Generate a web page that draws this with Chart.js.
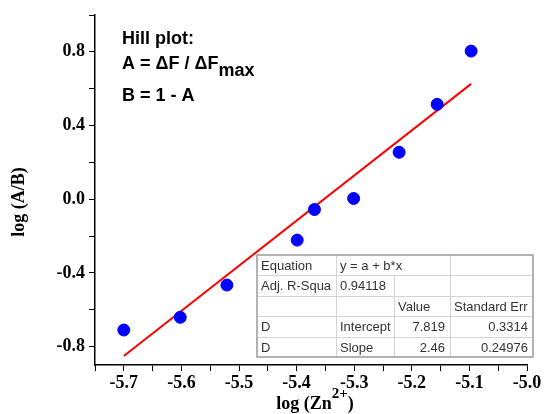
<!DOCTYPE html>
<html>
<head>
<meta charset="utf-8">
<script src="https://cdn.jsdelivr.net/npm/chart.js@4"></script>
<style>
  html, body { margin: 0; padding: 0; background: #fff; }
  #c { display: block; }
</style>
</head>
<body>
<canvas id="c" width="545" height="414"></canvas>
<script>
/* data */
const logZn = [-5.70, -5.602, -5.521, -5.399, -5.369, -5.301, -5.222, -5.156, -5.097];
const logAB = [-0.71, -0.641, -0.466, -0.222, -0.056, 0.004, 0.255, 0.515, 0.804];
const fitX = [-5.70, -5.097];
const fitY = [-0.851, 0.626];

// tick positions (labels only on the major ones)
const xTicks = [-5.75, -5.7, -5.65, -5.6, -5.55, -5.5, -5.45, -5.4, -5.35, -5.3, -5.25, -5.2, -5.15, -5.1, -5.05, -5.0];
const xLabels = [-5.7, -5.6, -5.5, -5.4, -5.3, -5.2, -5.1, -5.0];
const yTicks = [-0.8, -0.6, -0.4, -0.2, 0.0, 0.2, 0.4, 0.6, 0.8, 1.0];
const yLabels = [-0.8, -0.4, 0.0, 0.4, 0.8];

const tableRows = [
  ['Equation', 'y = a + b*x', '', ''],
  ['Adj. R-Squa', '0.94118', '', ''],
  ['', '', 'Value', 'Standard Err'],
  ['D', 'Intercept', '7.819', '0.3314'],
  ['D', 'Slope', '2.46', '0.24976']
];

const serif = '"Liberation Serif","Times New Roman",serif';
const sans = '"Liberation Sans",Arial,sans-serif';

const hasLabel = (list, v) => list.some(l => Math.abs(l - v) < 1e-6);

/* text annotation, fit table, axis titles */
const extras = {
  id: 'extras',
  afterDraw(chart) {
    const ctx = chart.ctx;
    ctx.save();
    ctx.fillStyle = '#000';
    ctx.textBaseline = 'alphabetic';

    // Hill plot note
    ctx.font = 'bold 18px ' + sans;
    ctx.fillText('Hill plot:', 122, 44);
    ctx.fillText('A = \u0394F / \u0394F', 122, 69);
    const w = ctx.measureText('A = \u0394F / \u0394F').width;
    ctx.fillText('max', 122 + w, 76);
    ctx.fillText('B = 1 - A', 122, 101);

    // x title with superscript
    ctx.font = 'bold 18px ' + serif;
    const base = 'log (Zn';
    const bw = ctx.measureText(base).width;
    ctx.font = 'bold 15px ' + serif;
    const sw = ctx.measureText('2+').width;
    ctx.font = 'bold 18px ' + serif;
    const pw = ctx.measureText(')').width;
    let x0 = 315 - (bw + sw + pw) / 2;
    ctx.fillText(base, x0, 409);
    ctx.font = 'bold 15px ' + serif;
    ctx.fillText('2+', x0 + bw, 398);
    ctx.font = 'bold 18px ' + serif;
    ctx.fillText(')', x0 + bw + sw, 409);

    // y title
    ctx.save();
    ctx.translate(24, 202);
    ctx.rotate(-Math.PI / 2);
    ctx.textAlign = 'center';
    ctx.fillText('log (A/B)', 0, 0);
    ctx.restore();

    // fit table
    const left = 257, top = 255, rowH = 20.4;
    const cols = [257, 336, 394, 450, 533];
    const bottom = top + rowH * tableRows.length;
    ctx.fillStyle = '#fff';
    ctx.fillRect(left, top, cols[4] - left, bottom - top);
    ctx.strokeStyle = '#d4d4d4';
    ctx.lineWidth = 1;
    for (let r = 1; r < tableRows.length; r++) {
      ctx.beginPath();
      ctx.moveTo(left, Math.round(top + r * rowH) + 0.5);
      ctx.lineTo(cols[4], Math.round(top + r * rowH) + 0.5);
      ctx.stroke();
    }
    for (let c = 1; c < 4; c++) {
      ctx.beginPath();
      const y0 = c === 2 ? top + rowH : top;
      ctx.moveTo(cols[c] + 0.5, y0);
      ctx.lineTo(cols[c] + 0.5, bottom);
      ctx.stroke();
    }
    ctx.strokeStyle = '#9a9a9a';
    ctx.lineWidth = 1.5;
    ctx.strokeRect(left, top, cols[4] - left, bottom - top);

    ctx.fillStyle = '#333';
    ctx.font = '13px ' + sans;
    tableRows.forEach((row, r) => {
      const y = top + r * rowH + 15;
      row.forEach((txt, c) => {
        if (!txt) return;
        const numeric = r >= 3 && c >= 2;
        if (numeric) {
          ctx.textAlign = 'right';
          ctx.fillText(txt, cols[c + 1] - 5, y);
        } else {
          ctx.textAlign = 'left';
          ctx.fillText(txt, cols[c] + 4, y);
        }
      });
    });
    ctx.restore();
  }
};

new Chart(document.getElementById('c'), {
  type: 'scatter',
  data: {
    datasets: [
      {
        label: 'fit',
        type: 'line',
        data: fitX.map((x, i) => ({ x, y: fitY[i] })),
        borderColor: '#ff0000',
        borderWidth: 2,
        pointRadius: 0,
        fill: false,
        order: 2
      },
      {
        label: 'data',
        data: logZn.map((x, i) => ({ x, y: logAB[i] })),
        backgroundColor: '#0000ff',
        borderColor: '#0000ff',
        pointRadius: 6,
        order: 1
      }
    ]
  },
  options: {
    responsive: false,
    animation: false,
    layout: { padding: { top: 15, right: 18, left: 0, bottom: 0 } },
    plugins: { legend: { display: false }, tooltip: { enabled: false } },
    scales: {
      x: {
        type: 'linear',
        min: -5.75,
        max: -5.0,
        afterFit: s => { s.height = 49; },
        afterBuildTicks: s => { s.ticks = xTicks.map(value => ({ value })); },
        border: { color: '#000', width: 1.5 },
        grid: { drawOnChartArea: false, tickLength: 6, color: '#000', tickColor: '#000' },
        ticks: {
          autoSkip: false,
          maxRotation: 0,
          padding: 2,
          color: '#000',
          font: { family: serif, size: 18, weight: 'bold' },
          callback: v => hasLabel(xLabels, v) ? v.toFixed(1) : ''
        }
      },
      y: {
        type: 'linear',
        min: -0.9,
        max: 1.0,
        afterFit: s => { s.width = 95; },
        afterBuildTicks: s => { s.ticks = yTicks.map(value => ({ value })); },
        border: { color: '#000', width: 1.5 },
        grid: { drawOnChartArea: false, tickLength: 6, color: '#000', tickColor: '#000' },
        ticks: {
          autoSkip: false,
          padding: 4,
          color: '#000',
          font: { family: serif, size: 18, weight: 'bold' },
          callback: v => hasLabel(yLabels, v) ? v.toFixed(1) : ''
        }
      }
    }
  },
  plugins: [extras]
});
</script>
</body>
</html>
